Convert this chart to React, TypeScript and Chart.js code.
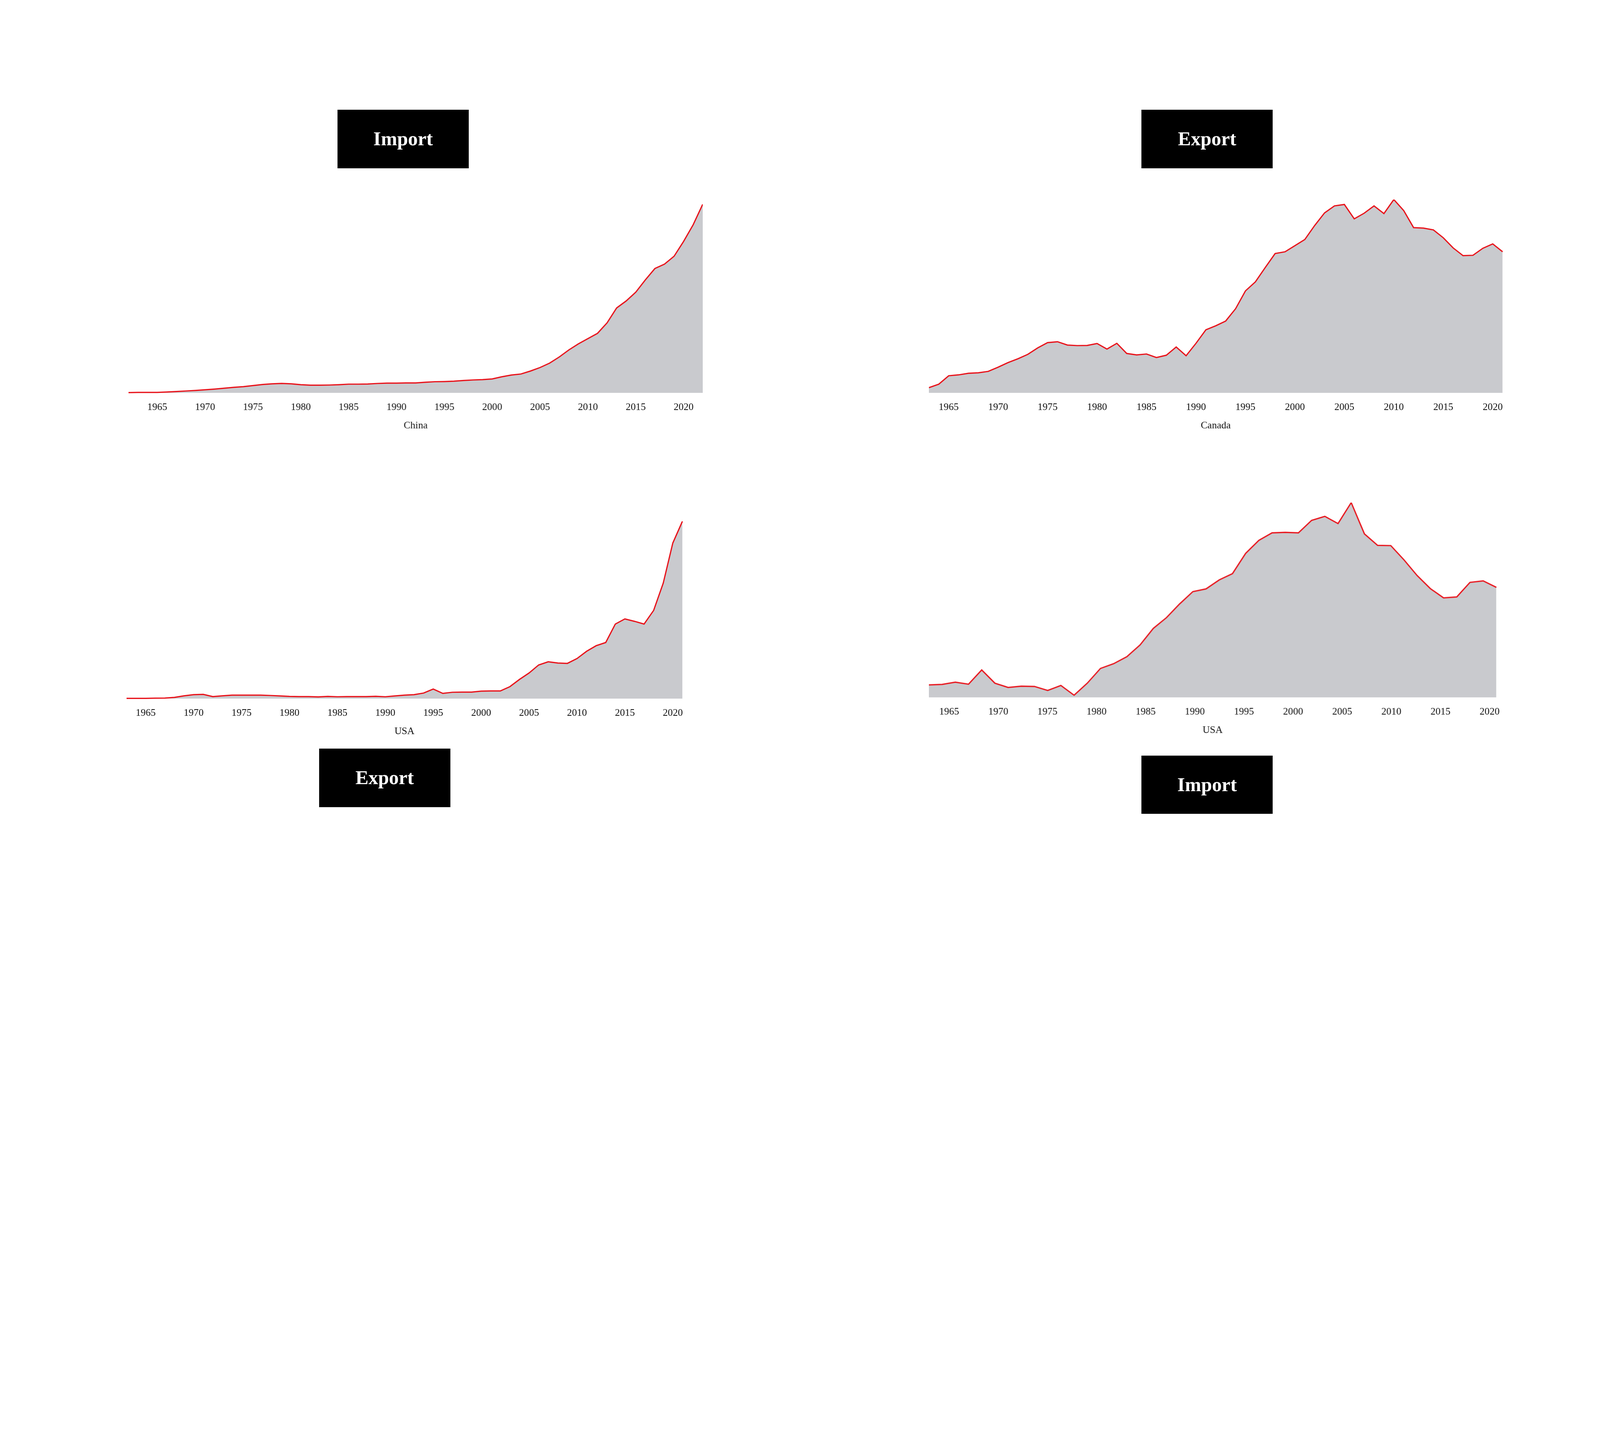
import { useEffect, useRef } from "react"
import Chart from "chart.js/auto"

// China imports (annual)
const chinaYears = Array.from({ length: 61 }, (_, i) => 1962 + i)
const chinaImport = [
  2, 3, 3, 3, 5, 8, 11, 14, 18, 22, 27, 32, 36, 42, 48, 52, 54, 52, 47, 44,
  44, 45, 47, 50, 50, 51, 54, 56, 56, 57, 57, 61, 64, 65, 67, 71, 74, 76, 80, 92,
  102, 108, 125, 145, 170, 205, 245, 280, 310, 340, 400, 485, 525, 575, 645, 710, 735, 780, 865, 960,
  1077,
]

// Canada exports (annual)
const canadaYears = Array.from({ length: 59 }, (_, i) => 1963 + i)
const canadaExport = [
  30, 50, 98, 103, 112, 115, 123, 147, 173, 195, 220, 257, 287, 292, 273, 270, 271, 282, 250, 283,
  225, 217, 222, 202, 215, 262, 212, 283, 360, 383, 410, 480, 582, 633, 715, 795, 805, 840, 875, 955,
  1027, 1067, 1075, 993, 1025, 1067, 1023, 1103, 1040, 943, 940, 930, 885, 827, 783, 785, 825, 850, 805,
]

// USA exports (annual)
const usaExpYears = Array.from({ length: 59 }, (_, i) => 1963 + i)
const usaExport = [
  2, 2, 2, 3, 4, 8, 18, 25, 27, 13, 18, 22, 22, 22, 22, 20, 17, 14, 13, 13,
  11, 14, 12, 13, 13, 13, 15, 12, 17, 22, 25, 35, 60, 33, 40, 41, 41, 47, 48, 48,
  75, 120, 160, 210, 230, 222, 220, 250, 295, 330, 350, 465, 497, 482, 465, 550, 720, 970, 1105,
]

// USA imports (sampled every ~1.34 years)
const usaImpStart = 1962.94
const usaImpStep = 1.343
const usaImport = [
  50, 52, 61, 53, 110, 57, 40, 45, 44, 28, 48, 9, 57, 116, 135, 163, 210, 276, 319, 374,
  423, 434, 470, 495, 576, 628, 658, 660, 658, 708, 724, 695, 779, 654, 608, 607, 550, 487, 435, 398,
  402, 460, 466, 440,
]
const usaImpYears = usaImport.map((_, i) => usaImpStart + i * usaImpStep)

const tickYears = [1965, 1970, 1975, 1980, 1985, 1990, 1995, 2000, 2005, 2010, 2015, 2020]

const AXIS_H = 200

function AreaChart({ xs, ys, label, left, right, top, bottom, s }: {
  xs: number[], ys: number[], label: string,
  left: number, right: number, top: number, bottom: number, s: number
}) {
  const canvasRef = useRef<HTMLCanvasElement>(null)

  useEffect(() => {
    const ctx = canvasRef.current
    if (!ctx) return
    const chart = new Chart(ctx, {
      type: "line",
      data: {
        datasets: [{
          data: xs.map((x, i) => ({ x, y: ys[i] })),
          borderColor: "#e8131b",
          borderWidth: 5 * s,
          backgroundColor: "#c9cace",
          fill: "origin",
          pointRadius: 0,
          tension: 0,
          clip: false,
        }],
      },
      options: {
        animation: false,
        responsive: false,
        maintainAspectRatio: false,
        layout: { padding: 0 },
        plugins: { legend: { display: false }, tooltip: { enabled: false } },
        scales: {
          x: {
            type: "linear",
            min: xs[0],
            max: xs[xs.length - 1],
            grid: { display: false },
            border: { display: false },
            afterBuildTicks: (sc: any) => { sc.ticks = tickYears.map(v => ({ value: v })) },
            afterFit: (sc: any) => { sc.height = AXIS_H * s },
            ticks: {
              autoSkip: false,
              maxRotation: 0,
              padding: 22 * s,
              color: "#111",
              font: { family: "Liberation Serif", size: 40 * s },
              callback: (v: any) => String(v),
            },
            title: {
              display: true,
              text: label,
              color: "#111",
              padding: { top: 0, bottom: 45 * s },
              font: { family: "Liberation Serif", size: 40 * s },
            },
          },
          y: { display: false, min: 0, max: Math.max(...ys) },
        },
      },
    })
    return () => chart.destroy()
  }, [xs, ys, label, s])

  const w = (right - left) * s
  const h = (bottom - top + AXIS_H) * s
  return (
    <canvas
      ref={canvasRef}
      width={w}
      height={h}
      style={{ position: "absolute", left: left * s, top: top * s, width: w, height: h }}
    />
  )
}

function Tag({ text, left, top, s }: { text: string, left: number, top: number, s: number }) {
  return (
    <div style={{
      position: "absolute", left: left * s, top: top * s, width: 526 * s, height: 234 * s,
      background: "#000", color: "#fff", display: "flex",
      alignItems: "center", justifyContent: "center",
      fontFamily: "Liberation Serif", fontWeight: "bold", fontSize: 78 * s,
    }}>{text}</div>
  )
}

export default function App() {
  // the page may be rendered at a device pixel ratio above 1; lay out in reference pixels
  const s = window.innerWidth / 6410
  return (
    <div style={{ position: "absolute", left: 0, top: 0, width: 6410 * s, height: 3685 * s, background: "#fff", overflow: "hidden" }}>
      <Tag s={s} text="Import" left={1352} top={440} />
      <Tag s={s} text="Export" left={4573} top={440} />
      <Tag s={s} text="Export" left={1278} top={3000} />
      <Tag s={s} text="Import" left={4573} top={3028} />
      <AreaChart s={s} xs={chinaYears} ys={chinaImport} label="China" left={515} right={2815} top={818} bottom={1575} />
      <AreaChart s={s} xs={canadaYears} ys={canadaExport} label="Canada" left={3722} right={6043} top={800} bottom={1575} />
      <AreaChart s={s} xs={usaExpYears} ys={usaExport} label="USA" left={507} right={2758} top={2089} bottom={2800} />
      <AreaChart s={s} xs={usaImpYears} ys={usaImport} label="USA" left={3721} right={6029} top={2014} bottom={2795} />
    </div>
  )
}
